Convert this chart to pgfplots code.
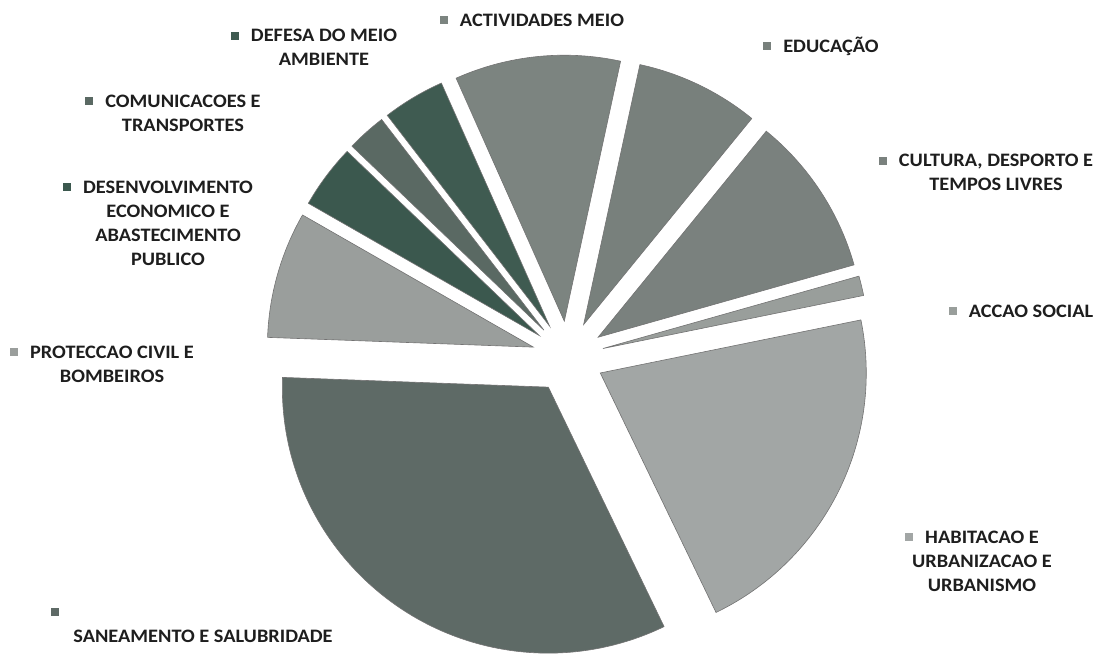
\documentclass[border=0pt]{standalone}
\usepackage{pgfplots}
\pgfplotsset{compat=1.18}
\usepackage{pgfplotstable}
\usepackage{fontspec}
\setmainfont{Carlito}[FakeStretch=1.07]
\definecolor{san}{HTML}{5E6A66}
\definecolor{hab}{HTML}{A2A6A5}
\definecolor{acc}{HTML}{999E9B}
\definecolor{cul}{HTML}{7A817E}
\definecolor{edu}{HTML}{78807C}
\definecolor{act}{HTML}{7C8480}
\definecolor{def}{HTML}{3F5B51}
\definecolor{com}{HTML}{5A6963}
\definecolor{des}{HTML}{3B584E}
\definecolor{pro}{HTML}{9A9E9C}
\definecolor{txt}{HTML}{1E1E1E}

% share of each slice (percent), counter-clockwise from SANEAMENTO
\pgfplotstableread{
value col
32.75 san
21.03 hab
1.19  acc
9.72  cul
7.50  edu
10.06 act
3.78  def
2.39  com
3.89  des
7.69  pro
}\piedata

\newcommand\mk[1]{\llap{\raisebox{2pt}{\textcolor{#1}{\rule{8pt}{8pt}}}\hspace{12pt}}}

\begin{document}
\begin{tikzpicture}
\begin{axis}[scale only axis, width=1111pt, height=651pt,
  xmin=0, xmax=1111, ymin=0, ymax=651, hide axis, clip=false]
\path (axis cs:0,0) rectangle (axis cs:1111,651);
\pgfmathsetmacro\angA{177.9}
\pgfplotsforeachungrouped \i in {0,...,9}{%
  \pgfplotstablegetelem{\i}{value}\of\piedata \let\val\pgfplotsretval
  \pgfplotstablegetelem{\i}{col}\of\piedata \let\col\pgfplotsretval
  \pgfmathsetmacro\angB{\angA+3.6*\val}%
  \pgfmathsetmacro\angM{(\angA+\angB)/2}%
  \pgfmathsetmacro\px{568+36*cos(\angM)}%
  \pgfmathsetmacro\py{294+36*sin(\angM)}%
  \edef\slice{\noexpand\fill[fill=\col, draw=black!55, line width=0.6pt]
    (axis cs:\px,\py) -- ++(\angA:266pt)
    arc[start angle=\angA, end angle=\angB, radius=266pt] -- cycle;}%
  \slice
  \let\angA\angB
}
\begin{scope}[every node/.style={align=center, text=txt,
    font=\fontsize{19}{24}\selectfont\bfseries}]
\node at (axis cs:324,603.5) {\mk{def}DEFESA DO MEIO\\AMBIENTE};
\node at (axis cs:542,631) {\mk{act}ACTIVIDADES MEIO};
\node at (axis cs:831,605) {\mk{edu}EDUCAÇÃO};
\node at (axis cs:996,478.5) {\mk{cul}CULTURA, DESPORTO E\\TEMPOS LIVRES};
\node at (axis cs:1031,340) {\mk{acc}ACCAO SOCIAL};
\node at (axis cs:982,90) {\mk{hab}HABITACAO E\\URBANIZACAO E\\URBANISMO};
\node at (axis cs:55,39) {\textcolor{san}{\rule{8pt}{8pt}}};
\node at (axis cs:203,15) {SANEAMENTO E SALUBRIDADE};
\node at (axis cs:112,287) {\mk{pro}PROTECCAO CIVIL E\\BOMBEIROS};
\node at (axis cs:168,428) {\mk{des}DESENVOLVIMENTO\\ECONOMICO E\\ABASTECIMENTO\\PUBLICO};
\node at (axis cs:183,538) {\mk{com}COMUNICACOES E\\TRANSPORTES};
\end{scope}
\end{axis}
\end{tikzpicture}
\end{document}
